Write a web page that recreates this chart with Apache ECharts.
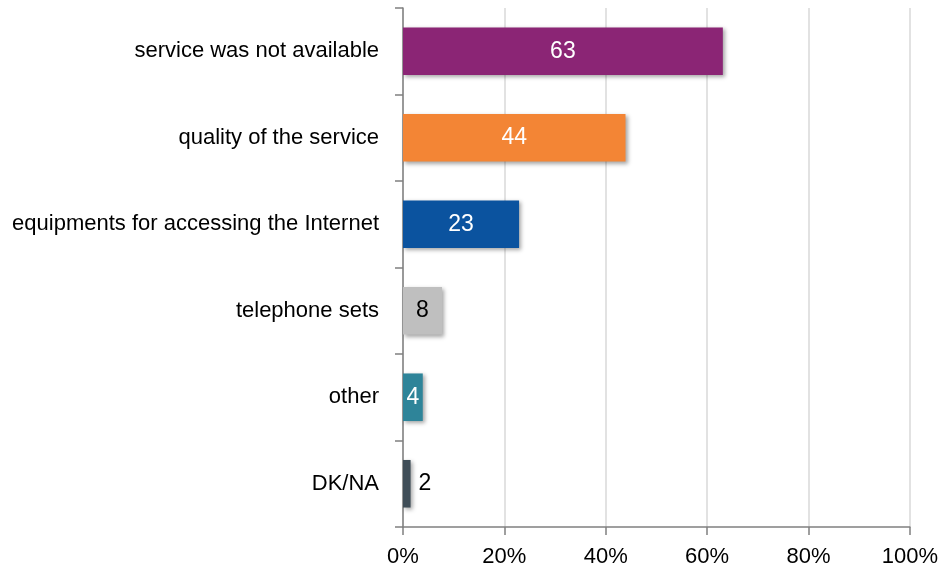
<!DOCTYPE html>
<html><head><meta charset="utf-8">
<script src="https://cdn.jsdelivr.net/npm/echarts@6/dist/echarts.min.js"></script>
<style>html,body{margin:0;padding:0;background:#fff}#c{width:941px;height:573px}</style>
</head><body><div id="c"></div>
<script>
var categories = ["service was not available","quality of the service","equipments for accessing the Internet","telephone sets","other","DK/NA"];
var values = [63.1, 43.9, 22.9, 7.7, 3.9, 1.5];
var labels = ["63","44","23","8","4","2"];
var colors = ["#8B2575","#F38535","#0B539F","#BFBFBF","#2E8499","#3F4D57"];
var labelColors = ["#fff","#fff","#fff","#000","#fff","#000"];
var labelPos = ["inside","inside","inside","inside","inside","right"];
var xTicks = [0,20,40,60,80,100];

var font = "'Liberation Sans Narrow', 'Arial Narrow', 'Liberation Sans', sans-serif";
var chart = echarts.init(document.getElementById('c'));
chart.setOption({
  animation:false,
  grid:{left:403,right:26,top:8,bottom:46,containLabel:false},
  xAxis:{type:'value',min:0,max:100,interval:20,
    axisLine:{show:true,lineStyle:{color:'#808080',width:1.5}},
    axisTick:{show:true,length:8,lineStyle:{color:'#808080',width:1.5}},
    splitLine:{show:true,lineStyle:{color:'#d9d9d9',width:1.5}},
    axisLabel:{formatter:function(v){return v+'%';},color:'#000',fontSize:22,fontFamily:font,margin:19}
  },
  yAxis:{type:'category',data:categories,inverse:true,
    axisLine:{show:true,lineStyle:{color:'#808080',width:1.5}},
    axisTick:{show:true,length:8,lineStyle:{color:'#808080',width:1.5}},
    axisLabel:{color:'#000',fontSize:22,fontFamily:font,margin:24}
  },
  series:[{type:'bar',barWidth:'55%',
    data:values.map(function(v,i){return {value:v,
      itemStyle:{color:colors[i],shadowBlur:4,shadowOffsetX:2,shadowOffsetY:2,shadowColor:'rgba(0,0,0,0.35)'},
      label:{show:true,position:labelPos[i],color:labelColors[i],formatter:labels[i],fontSize:23,fontFamily:font,distance:8}};})
  }]
});
</script></body></html>
